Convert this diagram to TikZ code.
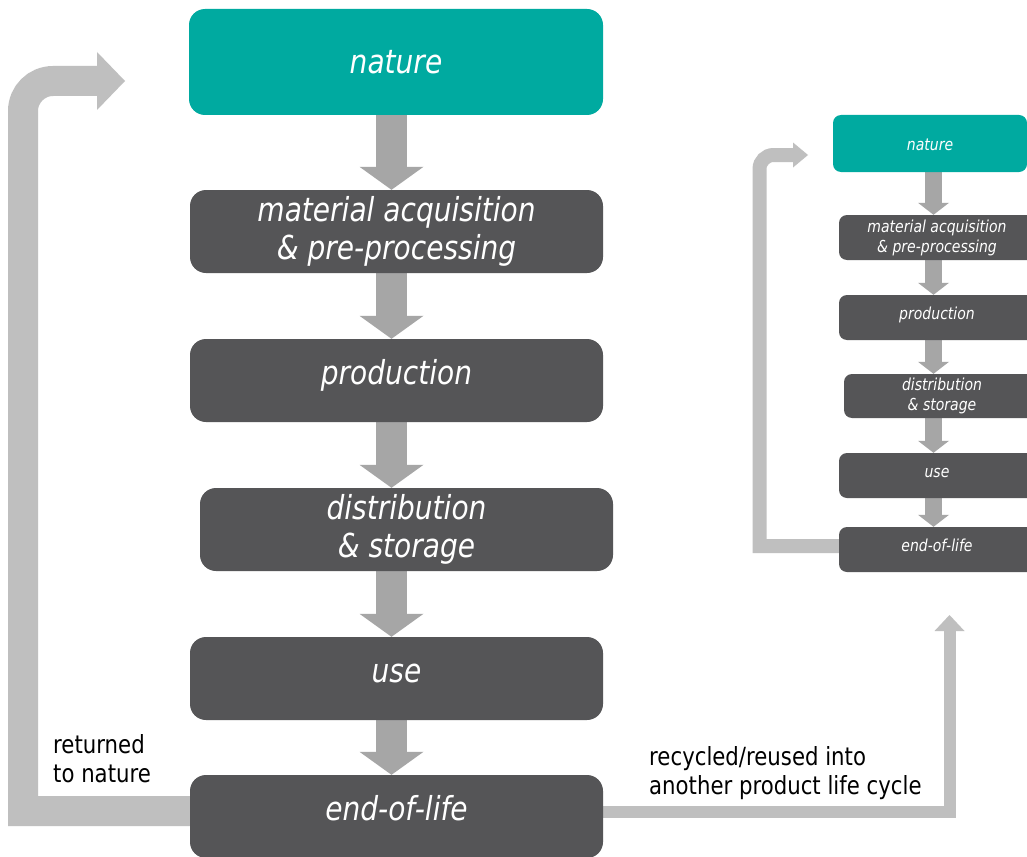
\documentclass[tikz,border=0pt]{standalone}
\usepackage{fontspec}
\setmainfont{DejaVu Sans}[FakeStretch=0.85]
\usetikzlibrary{arrows.meta}
\definecolor{natureteal}{RGB}{0,170,160}
\definecolor{stagegray}{RGB}{85,85,87}
\definecolor{flowgray}{RGB}{166,166,166}
\definecolor{loopgray}{RGB}{191,191,191}
\pgfdeclarelayer{paper}
\pgfdeclarelayer{links}
\pgfsetlayers{paper,links,main}
\begin{document}
\begin{tikzpicture}[x=1pt,y=-1pt,
  bigbox/.style={rounded corners=16pt, minimum width=413pt, minimum height=83pt,
    inner sep=0pt, text=white, align=center, fill=stagegray,
    font=\fontsize{33}{38}\selectfont\itshape},
  bigline/.style={text height=24pt, text depth=16pt},
  smallbox/.style={rounded corners=8pt, minimum width=196pt, minimum height=45pt,
    inner sep=0pt, text=white, align=center, fill=stagegray,
    font=\fontsize{16.5}{20}\selectfont\itshape},
  smallline/.style={text height=12pt, text depth=8pt},
  bigflow/.style={draw=flowgray, line width=31pt,
    -{Triangle[length=23pt,width=64pt,line width=0pt]}},
  smallflow/.style={draw=flowgray, line width=17pt,
    -{Triangle[length=12pt,width=31pt,line width=0pt]}},
  bigloop/.style={draw=loopgray, line width=30pt, line join=miter,
    -{Triangle[length=28pt,width=58pt,line width=0pt]}},
  smallloop/.style={draw=loopgray, line width=14pt, line join=miter,
    -{Triangle[length=15pt,width=25pt,line width=0pt]}},
  recycle/.style={draw=loopgray, line width=12pt, line join=miter,
    -{Triangle[length=16pt,width=30pt,line width=0pt]}},
  note/.style={inner sep=0pt, align=left, text=black,
    font=\fontsize{25}{29}\selectfont}
]
\begin{pgfonlayer}{paper}
  \fill[white] (0,0) rectangle (1027,856);
\end{pgfonlayer}
\useasboundingbox (0,0) rectangle (1027,856);

% main life cycle
\node[bigbox, fill=natureteal, minimum width=414pt, minimum height=106pt,
  text height=24pt, text depth=0pt] (nature) at (396,62) {nature};
\node[bigbox] (mat)  at (396.5,231.5) {material acquisition\\\& pre-processing};
\node[bigbox, bigline] (prod) at (396.5,380.5) {production};
\node[bigbox] (dist) at (406.5,529.5) {distribution\\\& storage};
\node[bigbox, bigline] (use)  at (396.5,678.5) {use};
\node[bigbox, bigline] (eol)  at (396.5,816.5) {end-of-life};

% small life cycle
\node[smallbox, fill=natureteal, minimum width=194pt, minimum height=57pt,
  text height=13pt, text depth=0pt] (snature) at (930,143.5) {nature};
\node[smallbox] (smat)  at (937,237.5) {material acquisition\\\& pre-processing};
\node[smallbox, smallline] (sprod) at (937,317.5) {production};
\node[smallbox, minimum height=44pt] (sdist) at (942,396) {distribution\\\& storage};
\node[smallbox, smallline] (suse)  at (937,475.5) {use};
\node[smallbox, smallline] (seol)  at (937,549.5) {end-of-life};

% labels (anchored on the baseline of their last line)
\node[note, anchor=base west] (lret) at (53,782) {returned\\to nature};
\node[note, anchor=base west] (lrec) at (649,794) {recycled/reused into\\another product life cycle};

% helper coordinates
\coordinate (ax) at (391.5,0);
\coordinate (sax) at (933.5,0);
\coordinate (rtip) at (125,81);
\coordinate (srtip) at (808,155);
\coordinate (ctip) at (949.5,615);

\begin{pgfonlayer}{links}
  % main flow
  \draw[bigflow] (nature.south -| ax) -- (mat.north -| ax);
  \draw[bigflow] (mat.south -| ax) -- (prod.north -| ax);
  \draw[bigflow] (prod.south -| ax) -- (dist.north -| ax);
  \draw[bigflow] (dist.south -| ax) -- (use.north -| ax);
  \draw[bigflow] (use.south -| ax) -- (eol.north -| ax);
  % small flow
  \draw[smallflow] (snature.south -| sax) -- (smat.north -| sax);
  \draw[smallflow] (smat.south -| sax) -- (sprod.north -| sax);
  \draw[smallflow] (sprod.south -| sax) -- (sdist.north -| sax);
  \draw[smallflow] (sdist.south -| sax) -- (suse.north -| sax);
  \draw[smallflow] (suse.south -| sax) -- (seol.north -| sax);
  % return loops
  \draw[bigloop] ([yshift=5.5pt]eol.west) -- (23,811)
    [rounded corners=30pt] -- (23,81) -- (rtip);
  \draw[smallloop] ([yshift=3.5pt]seol.west) -- (759.5,546)
    [rounded corners=14pt] -- (759.5,155) -- (srtip);
  % recycling branch
  \draw[recycle] ([yshift=4.5pt]eol.east) -- (ctip |- 0,812) -- (ctip);
\end{pgfonlayer}
\end{tikzpicture}
\end{document}
